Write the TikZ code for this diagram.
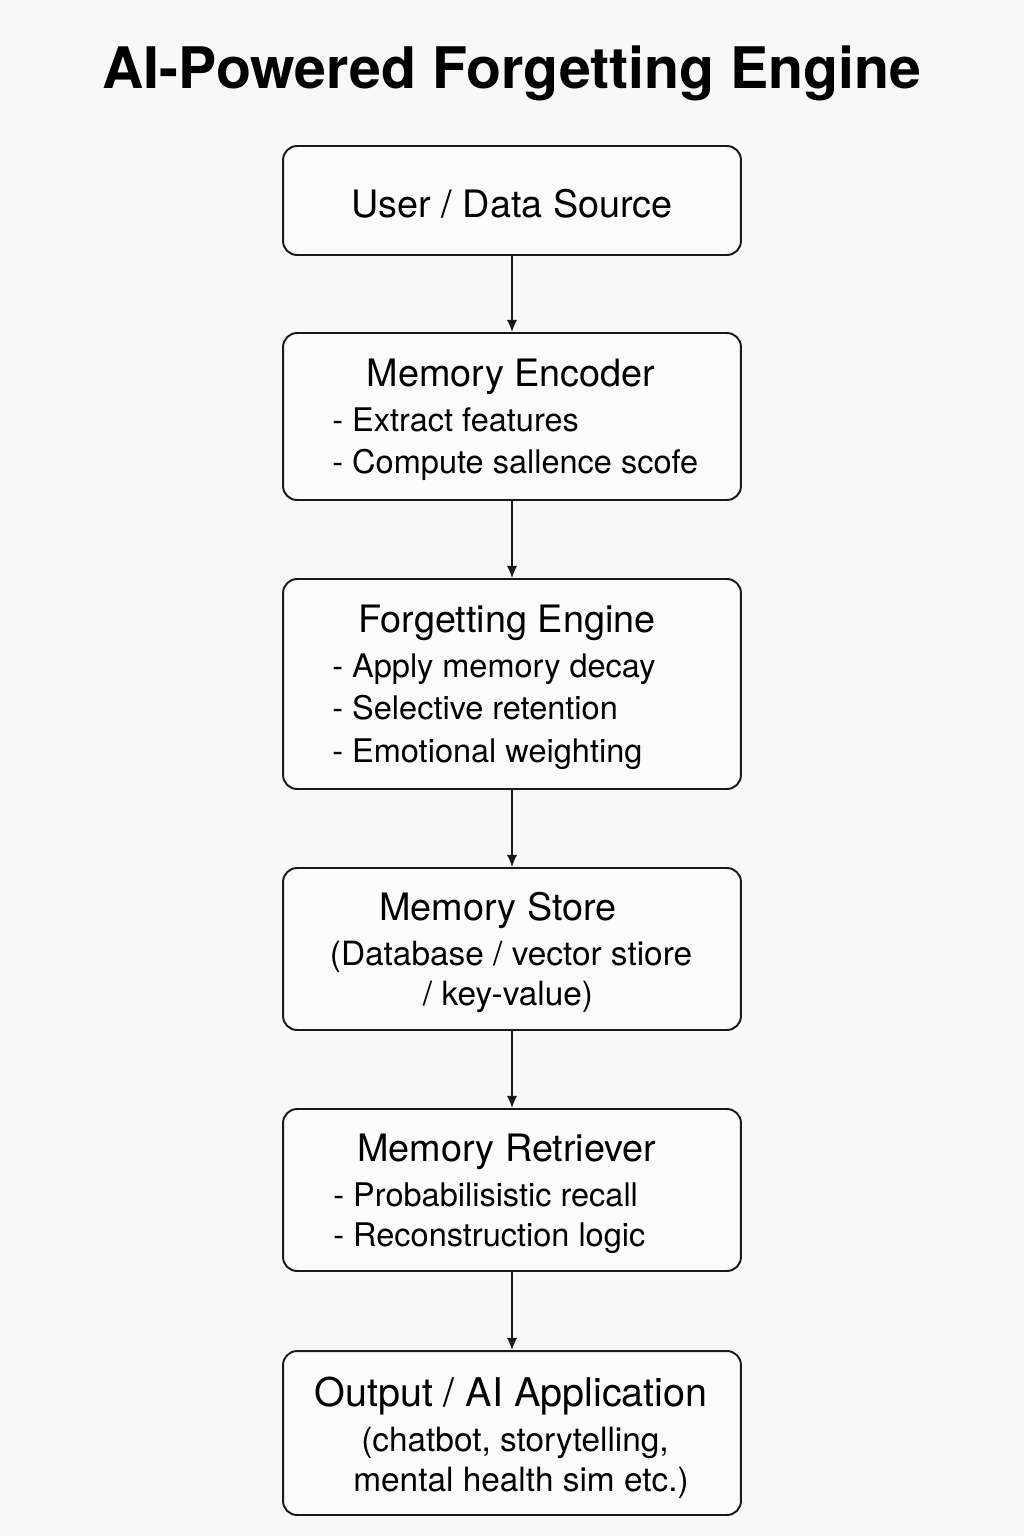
\documentclass[tikz,border=0pt]{standalone}
\usepackage{fontspec}
\setmainfont{TeX Gyre Heros}
\usepackage{tikz}
\usetikzlibrary{arrows,arrows.meta}
\usepackage{color}
\definecolor{paper}{RGB}{248,248,248}
\definecolor{boxfill}{RGB}{251,251,251}

\begin{document}
\begin{tikzpicture}[x=0.02cm, y=0.02cm]
\tikzstyle{every node}+=[inner sep=0pt]
\tikzstyle{stage}=[draw=black!90, line width=1.1pt, rounded corners=8pt, fill=boxfill, minimum width=9.16cm]
\tikzstyle{head}=[anchor=base, font=\fontsize{21.5}{25}\selectfont]
\tikzstyle{item}=[anchor=base west, font=\fontsize{18.5}{22}\selectfont]
\tikzstyle{note}=[anchor=base, font=\fontsize{19}{22}\selectfont]
\tikzstyle{flow}=[-{Latex[length=7pt,width=6pt]}, line width=1pt, black!90]
\fill [paper] (0,0) rectangle (1024,-1536);
\node (title) at (512,-88) [anchor=base, font=\fontsize{32.6}{38}\selectfont\bfseries] {AI-Powered Forgetting Engine};
\node (user) at (512,-200.5) [stage, minimum height=2.18cm] {};
\node (encoder) at (512,-416.5) [stage, minimum height=3.34cm] {};
\node (forget) at (512,-684) [stage, minimum height=4.2cm] {};
\node (store) at (512,-949) [stage, minimum height=3.24cm] {};
\node (retriever) at (512,-1190) [stage, minimum height=3.24cm] {};
\node (output) at (512,-1433) [stage, minimum height=3.28cm] {};
\node (userT) at (512,-217) [head] {User / Data Source};
\node (encoderT) at (511,-386) [head] {Memory Encoder};
\node (encoderA) at (332,-431) [item] {- Extract features};
\node (encoderB) at (332,-473) [item] {- Compute sallence scofe};
\node (forgetT) at (507,-632) [head] {Forgetting Engine};
\node (forgetA) at (332,-677) [item] {- Apply memory decay};
\node (forgetB) at (332,-719) [item] {- Selective retention};
\node (forgetC) at (332,-762) [item] {- Emotional weighting};
\node (storeT) at (498,-920) [head] {Memory Store};
\node (storeA) at (511,-965) [note] {(Database / vector stiore};
\node (storeB) at (508,-1005) [note] {/ key-value)};
\node (retrieverT) at (507,-1161) [head] {Memory Retriever};
\node (retrieverA) at (333,-1206) [item] {- Probabilisistic recall};
\node (retrieverB) at (333,-1246) [item] {- Reconstruction logic};
\node (outputT) at (511,-1406) [head, font=\fontsize{22.5}{26}\selectfont] {Output / AI Application};
\node (outputA) at (515,-1451) [note] {(chatbot, storytelling,};
\node (outputB) at (521,-1491) [note] {mental health sim etc.)};
\draw [flow] (user) -- (encoder);
\draw [flow] (encoder) -- (forget);
\draw [flow] (forget) -- (store);
\draw [flow] (store) -- (retriever);
\draw [flow] (retriever) -- (output);
\end{tikzpicture}
\end{document}
